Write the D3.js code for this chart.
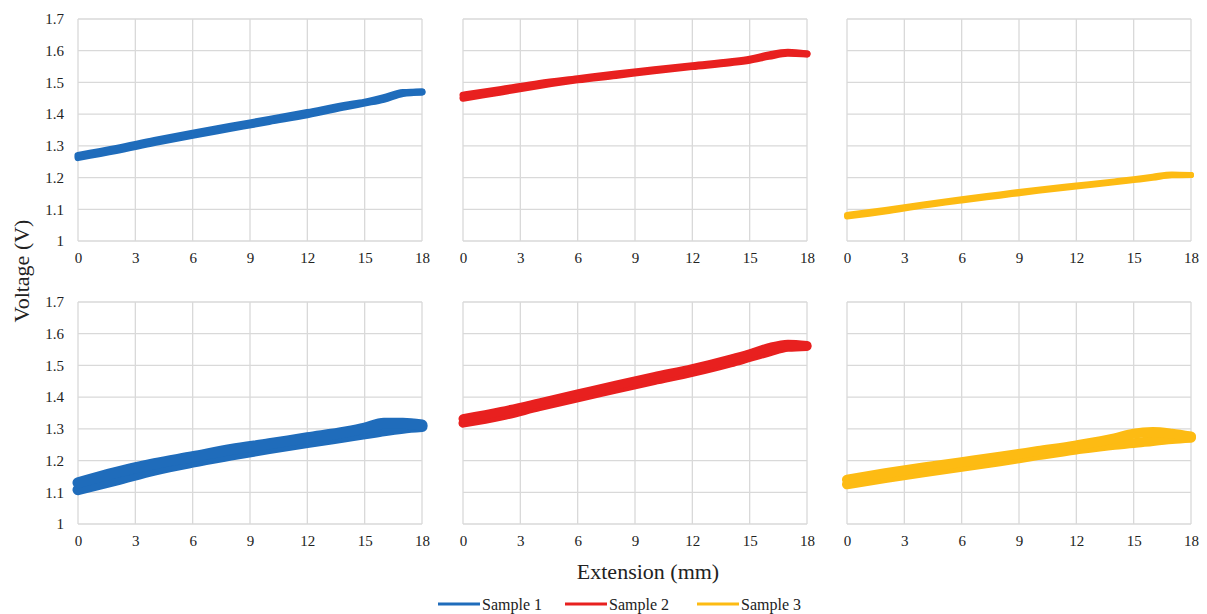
<!DOCTYPE html>
<html>
<head>
<meta charset="utf-8">
<script src="https://cdn.jsdelivr.net/npm/d3@7"></script>
<style>
  body { margin: 0; background: #fff; }
  .grid line { stroke: #d9d9d9; stroke-width: 1.3; }
  .trace { fill: none; stroke-linejoin: round; stroke-linecap: round; }
</style>
</head>
<body>
<script>
var ext = [0, 2, 4, 6, 8, 10, 12, 14, 15, 16, 17, 18];
var xTicks = [0, 3, 6, 9, 12, 15, 18];
var yTicks = [1, 1.1, 1.2, 1.3, 1.4, 1.5, 1.6, 1.7];

var samples = ["Sample 1", "Sample 2", "Sample 3"];
var colors = ["#1f6cbb", "#e8201f", "#fdbb13"];

// Voltage (V), loading and unloading traces, top row
var s1TopLoad   = [1.263, 1.285, 1.310, 1.333, 1.355, 1.377, 1.398, 1.423, 1.435, 1.447, 1.465, 1.470];
var s1TopUnload = [1.270, 1.292, 1.317, 1.340, 1.362, 1.383, 1.405, 1.428, 1.438, 1.452, 1.468, 1.470];
var s2TopLoad   = [1.450, 1.470, 1.490, 1.508, 1.522, 1.537, 1.550, 1.562, 1.570, 1.582, 1.592, 1.590];
var s2TopUnload = [1.460, 1.478, 1.497, 1.512, 1.527, 1.540, 1.553, 1.565, 1.573, 1.587, 1.595, 1.590];
var s3TopLoad   = [1.077, 1.093, 1.112, 1.128, 1.143, 1.158, 1.172, 1.185, 1.192, 1.199, 1.207, 1.208];
var s3TopUnload = [1.082, 1.098, 1.115, 1.132, 1.147, 1.162, 1.175, 1.188, 1.195, 1.203, 1.210, 1.208];

// bottom row
var s1BotLoad   = [1.108, 1.138, 1.170, 1.195, 1.217, 1.238, 1.257, 1.275, 1.284, 1.294, 1.302, 1.307];
var s1BotUnload = [1.130, 1.163, 1.190, 1.212, 1.235, 1.253, 1.272, 1.290, 1.302, 1.318, 1.318, 1.312];
var s2BotLoad   = [1.318, 1.340, 1.370, 1.398, 1.425, 1.452, 1.478, 1.508, 1.525, 1.542, 1.557, 1.560];
var s2BotUnload = [1.332, 1.355, 1.382, 1.410, 1.438, 1.465, 1.490, 1.520, 1.537, 1.556, 1.567, 1.563];
var s3BotLoad   = [1.125, 1.145, 1.163, 1.180, 1.198, 1.217, 1.235, 1.250, 1.255, 1.262, 1.268, 1.272];
var s3BotUnload = [1.140, 1.160, 1.178, 1.195, 1.212, 1.230, 1.248, 1.270, 1.285, 1.290, 1.285, 1.276];

var panels = [
  {row: 0, col: 0, traces: [s1TopLoad, s1TopUnload], width: 7},
  {row: 0, col: 1, traces: [s2TopLoad, s2TopUnload], width: 7},
  {row: 0, col: 2, traces: [s3TopLoad, s3TopUnload], width: 6},
  {row: 1, col: 0, traces: [s1BotLoad, s1BotUnload], width: 11},
  {row: 1, col: 1, traces: [s2BotLoad, s2BotUnload], width: 9},
  {row: 1, col: 2, traces: [s3BotLoad, s3BotUnload], width: 10}
];

var serif = "'Liberation Serif', 'DejaVu Serif', serif";

var W = 1207, H = 614;
var colLeft = [78, 463, 847],
    panelW = 344,
    rowTop = [19, 302],
    panelH = 222;

var svg = d3.select("body").append("svg")
    .attr("width", W)
    .attr("height", H);

var xScale = d3.scaleLinear().domain([0, 18]).range([0, panelW]);
var yScale = d3.scaleLinear().domain([1, 1.7]).range([panelH, 0]);

var line = d3.line()
    .x(function(d, i) { return xScale(ext[i]); })
    .y(function(d) { return yScale(d); })
    .curve(d3.curveMonotoneX);

panels.forEach(function(p) {
  var g = svg.append("g")
      .attr("transform", "translate(" + colLeft[p.col] + "," + rowTop[p.row] + ")");

  // gridlines
  var grid = g.append("g").attr("class", "grid");
  grid.selectAll(".gx").data(xTicks).enter().append("line")
      .attr("x1", xScale).attr("x2", xScale)
      .attr("y1", 0).attr("y2", panelH);
  grid.selectAll(".gy").data(yTicks).enter().append("line")
      .attr("x1", 0).attr("x2", panelW)
      .attr("y1", yScale).attr("y2", yScale);

  // traces
  p.traces.forEach(function(t) {
    g.append("path")
      .datum(t)
      .attr("class", "trace")
      .attr("stroke", colors[p.col])
      .attr("stroke-width", p.width)
      .attr("d", line);
  });

  // x axis
  var xAxis = d3.axisBottom(xScale).tickValues(xTicks).tickSize(0).tickPadding(11);
  var gx = g.append("g")
      .attr("transform", "translate(0," + panelH + ")")
      .call(xAxis)
      .attr("font-family", serif)
      .attr("font-size", 15);
  gx.select(".domain").remove();
  gx.selectAll("text").attr("fill", "#222");

  // y axis only on the first column
  if (p.col === 0) {
    var yAxis = d3.axisLeft(yScale).tickValues(yTicks)
        .tickFormat(function(d) { return d3.format("")(+d.toFixed(1)); })
        .tickSize(0).tickPadding(14);
    var gy = g.append("g").call(yAxis)
        .attr("font-family", serif)
        .attr("font-size", 15);
    gy.select(".domain").remove();
    gy.selectAll("text").attr("fill", "#222");
  }
});

// axis titles
svg.append("text")
    .attr("transform", "translate(29,271) rotate(-90)")
    .attr("text-anchor", "middle")
    .attr("font-family", serif)
    .attr("font-size", 22)
    .attr("fill", "#222")
    .text("Voltage (V)");

svg.append("text")
    .attr("x", 648)
    .attr("y", 579)
    .attr("text-anchor", "middle")
    .attr("font-family", serif)
    .attr("font-size", 22)
    .attr("fill", "#222")
    .text("Extension (mm)");

// legend
var legendX = [438, 565, 697];
var legend = svg.selectAll(".legend").data(samples).enter().append("g")
    .attr("transform", function(d, i) { return "translate(" + legendX[i] + ",604)"; });
legend.append("line")
    .attr("x1", 0).attr("x2", 42)
    .attr("stroke", function(d, i) { return colors[i]; })
    .attr("stroke-width", 3);
legend.append("text")
    .attr("x", 44)
    .attr("y", 5.5)
    .attr("font-family", serif)
    .attr("font-size", 16)
    .attr("fill", "#222")
    .text(function(d) { return d; });
</script>
</body>
</html>
